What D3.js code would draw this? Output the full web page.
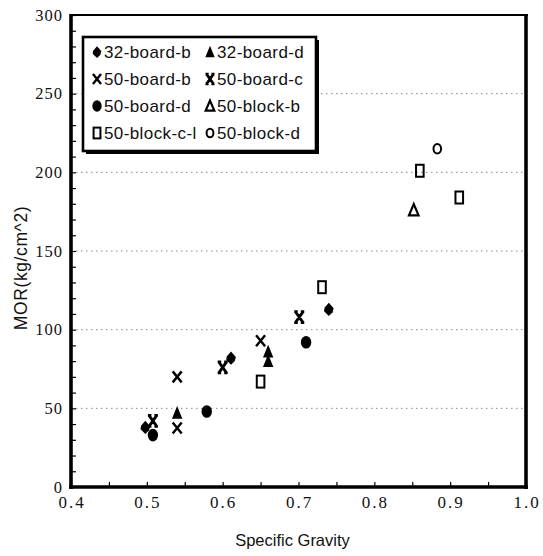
<!DOCTYPE html>
<html>
<head>
<meta charset="utf-8">
<script src="https://cdn.jsdelivr.net/npm/d3@7"></script>
<style>
  html, body { margin: 0; padding: 0; background: #fff; }
  svg { display: block; }
</style>
</head>
<body>
<svg id="chart" width="543" height="556"></svg>
<script>
// Modulus of rupture against specific gravity, by specimen group
const seriesNames = ["32-board-b", "32-board-d", "50-board-b", "50-board-c",
                     "50-board-d", "50-block-b", "50-block-c-l", "50-block-d"];

const sg32boardB = [0.498, 0.611, 0.740];
const mor32boardB = [38, 82, 113];

const sg32boardD = [0.540, 0.660, 0.660];
const mor32boardD = [47, 86, 80];

const sg50boardB = [0.540, 0.540, 0.650];
const mor50boardB = [37.5, 70, 93];

const sg50boardC = [0.508, 0.600, 0.701];
const mor50boardC = [42, 76, 108];

const sg50boardD = [0.508, 0.579, 0.710];
const mor50boardD = [33, 48, 92];

const sg50blockB = [0.852];
const mor50blockB = [176];

const sg50blockCl = [0.650, 0.731, 0.860, 0.912];
const mor50blockCl = [67, 127, 201, 184];

const sg50blockD = [0.883];
const mor50blockD = [215];

const xTicks = [0.4, 0.5, 0.6, 0.7, 0.8, 0.9, 1.0];
const yTicks = [0, 50, 100, 150, 200, 250, 300];
const gridValues = [50, 100, 150, 200, 250];

const xValues = [sg32boardB, sg32boardD, sg50boardB, sg50boardC,
                 sg50boardD, sg50blockB, sg50blockCl, sg50blockD];
const yValues = [mor32boardB, mor32boardD, mor50boardB, mor50boardC,
                 mor50boardD, mor50blockB, mor50blockCl, mor50blockD];

const svg = d3.select("#chart");
const plotLeft = 71, plotRight = 526, plotTop = 15, plotBottom = 487;

const x = d3.scaleLinear().domain([0.4, 1.0]).range([plotLeft, plotRight]);
const y = d3.scaleLinear().domain([0, 300]).range([plotBottom, plotTop]);

// Marker shapes, drawn around the origin
function drawMarker(g, name, s) {
  const k = s || 1;
  switch (name) {
    case "32-board-b": // filled diamond
      g.append("path")
        .attr("d", `M0,${-6.5*k} L${4.8*k},${-1*k} L${3.8*k},${3*k} L0,${6.8*k} L${-4.8*k},${2*k} L${-4.3*k},${-1.5*k}Z`)
        .attr("fill", "#000");
      break;
    case "32-board-d": // filled triangle
      g.append("path")
        .attr("d", `M0,${-7*k} L${5.2*k},${5.8*k} L${-5.2*k},${5.8*k}Z`)
        .attr("fill", "#000");
      break;
    case "50-board-b": // cross
      g.append("path")
        .attr("d", `M${-4.5*k},${-5.5*k} L${4.5*k},${5.5*k} M${4.5*k},${-5.5*k} L${-4.5*k},${5.5*k}`)
        .attr("stroke", "#000").attr("stroke-width", 2.4).attr("fill", "none");
      break;
    case "50-board-c": // cross with capped ends
      g.append("path")
        .attr("d", `M${-3.5*k},${-5*k} L${3.5*k},${5*k} M${3.5*k},${-5*k} L${-3.5*k},${5*k} ` +
                   `M${-5*k},${-5.5*k} L${-1.5*k},${-5.5*k} M${1.5*k},${-5.5*k} L${5*k},${-5.5*k} ` +
                   `M${-5*k},${5.5*k} L${-1.5*k},${5.5*k} M${1.5*k},${5.5*k} L${5*k},${5.5*k}`)
        .attr("stroke", "#000").attr("stroke-width", 2.8).attr("fill", "none");
      break;
    case "50-board-d": // filled circle
      g.append("ellipse").attr("rx", 5.2 * k).attr("ry", 6.3 * k).attr("fill", "#000");
      break;
    case "50-block-b": // open triangle
      g.append("path")
        .attr("d", `M0,${-6*k} L${4.8*k},${5.2*k} L${-4.8*k},${5.2*k}Z`)
        .attr("fill", "none").attr("stroke", "#000").attr("stroke-width", 2.2);
      break;
    case "50-block-c-l": // open rectangle
      g.append("rect")
        .attr("x", -3.8 * k).attr("y", -6 * k).attr("width", 7.6 * k).attr("height", 12 * k)
        .attr("fill", "none").attr("stroke", "#000").attr("stroke-width", 2);
      break;
    case "50-block-d": // open circle
      g.append("ellipse").attr("rx", 3.8 * k).attr("ry", 4.8 * k)
        .attr("fill", "none").attr("stroke", "#000").attr("stroke-width", 2);
      break;
  }
}

// Dotted grid lines
svg.append("g").selectAll("line").data(gridValues).join("line")
  .attr("x1", plotLeft).attr("x2", plotRight)
  .attr("y1", d => y(d)).attr("y2", d => y(d))
  .attr("stroke", "#888").attr("stroke-width", 1)
  .attr("stroke-dasharray", "1.5,3.5");

// Inner minor ticks
const yAxis = d3.axisRight(y).tickValues(d3.range(0, 301, 10)).tickSize(5).tickFormat("");
svg.append("g").attr("transform", `translate(${plotLeft},0)`).call(yAxis)
  .call(g => g.select(".domain").remove())
  .call(g => g.selectAll("line").attr("stroke", "#000").attr("stroke-width", 1.2));

const xAxis = d3.axisTop(x).tickValues(d3.range(0.4, 1.001, 0.05)).tickSize(5).tickFormat("");
svg.append("g").attr("transform", `translate(0,${plotBottom})`).call(xAxis)
  .call(g => g.select(".domain").remove())
  .call(g => g.selectAll("line").attr("stroke", "#000").attr("stroke-width", 1.2));

// Frame
svg.append("line").attr("x1", plotLeft - 1).attr("x2", plotRight + 2).attr("y1", plotTop).attr("y2", plotTop)
  .attr("stroke", "#000").attr("stroke-width", 2.2);
svg.append("line").attr("x1", plotLeft).attr("x2", plotLeft).attr("y1", plotTop - 1).attr("y2", plotBottom + 2)
  .attr("stroke", "#000").attr("stroke-width", 3.6);
svg.append("line").attr("x1", plotRight).attr("x2", plotRight).attr("y1", plotTop - 1).attr("y2", plotBottom + 2)
  .attr("stroke", "#000").attr("stroke-width", 3.6);
svg.append("line").attr("x1", plotLeft - 1.8).attr("x2", plotRight + 1.8).attr("y1", plotBottom).attr("y2", plotBottom)
  .attr("stroke", "#000").attr("stroke-width", 3.6);

// Tick labels
svg.append("g").selectAll("text").data(yTicks).join("text")
  .attr("x", 63).attr("y", d => y(d) + 5.5)
  .attr("text-anchor", "end")
  .attr("font-family", "'Liberation Serif', 'DejaVu Serif', serif")
  .attr("font-size", 16.5).attr("letter-spacing", 1)
  .attr("fill", "#111")
  .text(d => d);

svg.append("g").selectAll("text").data(xTicks).join("text")
  .attr("x", d => x(d) + 1).attr("y", 508)
  .attr("text-anchor", "middle")
  .attr("font-family", "'Liberation Serif', 'DejaVu Serif', serif")
  .attr("font-size", 17).attr("letter-spacing", 2)
  .attr("fill", "#111")
  .text(d => d3.format(".1f")(d));

// Axis titles
svg.append("text")
  .attr("x", (plotLeft + plotRight) / 2 - 6).attr("y", 546)
  .attr("text-anchor", "middle")
  .attr("font-family", "'Liberation Sans', Arial, sans-serif")
  .attr("font-size", 16.5).attr("fill", "#111")
  .text("Specific Gravity");

svg.append("text")
  .attr("transform", "translate(27,268) rotate(-90)")
  .attr("text-anchor", "middle")
  .attr("font-family", "'Liberation Sans', Arial, sans-serif")
  .attr("font-size", 17.5).attr("letter-spacing", 0.6).attr("fill", "#111")
  .text("MOR(kg/cm^2)");

// Data points
seriesNames.forEach((name, i) => {
  const pts = d3.zip(xValues[i], yValues[i]);
  svg.append("g").selectAll("g").data(pts).join("g")
    .attr("transform", d => `translate(${x(d[0])},${y(d[1])})`)
    .each(function () { drawMarker(d3.select(this), name, 1); });
});

// Legend
const legend = svg.append("g");
const lx = 83, ly = 37, lw = 233, lh = 114;
legend.append("rect").attr("x", lx + 3).attr("y", ly + 3).attr("width", lw).attr("height", lh)
  .attr("fill", "#000");
legend.append("rect").attr("x", lx).attr("y", ly).attr("width", lw).attr("height", lh)
  .attr("fill", "#fff").attr("stroke", "#000").attr("stroke-width", 2.6);

const colX = [97, 210];
const rowY = [52, 79, 106, 133];
seriesNames.forEach((name, i) => {
  const cx = colX[i % 2], cy = rowY[Math.floor(i / 2)];
  const g = legend.append("g").attr("transform", `translate(${cx},${cy})`);
  drawMarker(g, name, 0.9);
  legend.append("text")
    .attr("x", cx + 7).attr("y", cy + 6)
    .attr("font-family", "'Liberation Sans', Arial, sans-serif")
    .attr("font-size", 17).attr("letter-spacing", 0.4).attr("fill", "#111")
    .text(name);
});
</script>
</body>
</html>
